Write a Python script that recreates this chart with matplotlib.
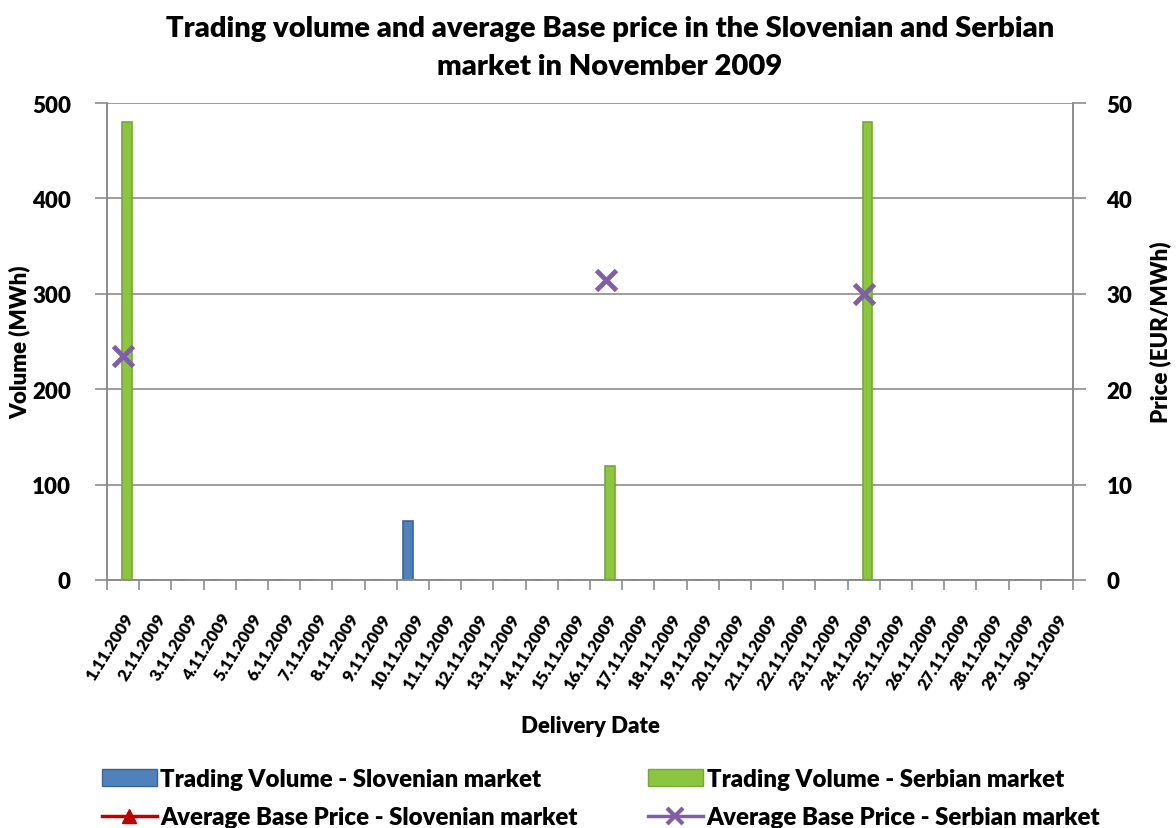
import numpy as np
import matplotlib
matplotlib.use("Agg")
import matplotlib.pyplot as plt
from matplotlib.patches import Patch
from matplotlib.lines import Line2D

plt.rcParams['font.family'] = ['Lato', 'DejaVu Sans']

dates = [f"{d}.11.2009" for d in range(1, 31)]

# trading volumes (MWh), only the days with trades
vol_slo = {"10.11.2009": 62}
vol_srb = {"1.11.2009": 480, "16.11.2009": 120, "24.11.2009": 480}
# average base prices (EUR/MWh)
price_slo = {}
price_srb = {"1.11.2009": 23.5, "16.11.2009": 31.5, "24.11.2009": 30.0}

x = np.arange(len(dates))
v_slo = np.array([vol_slo.get(d, 0) for d in dates], dtype=float)
v_srb = np.array([vol_srb.get(d, 0) for d in dates], dtype=float)
p_slo = np.array([price_slo.get(d, np.nan) for d in dates], dtype=float)
p_srb = np.array([price_srb.get(d, np.nan) for d in dates], dtype=float)

blue = '#4F81BD'
green = '#8CC63F'
red = '#C00000'
purple = '#7F5FA8'
grid_c = '#8C8C8C'
W = 'heavy'

fig = plt.figure(figsize=(11.76, 8.29), dpi=100)
ax = fig.add_axes([0.091, 0.2992, 0.8215, 0.5753])
ax2 = ax.twinx()

w = 0.3
ax.bar(x - 0.16, v_slo, width=w, color=blue, edgecolor='#3A6596', linewidth=1.2, zorder=3)
ax.bar(x + 0.12, v_srb, width=w, color=green, edgecolor='#74A838', linewidth=1.2, zorder=3)

ax2.plot(x, p_slo, color=red, marker='^', markersize=10, linewidth=2.5)
ax2.plot(x, p_srb, color=purple, marker='x', markersize=15, markeredgewidth=3.5,
         linestyle='none')

ax.set_xlim(-0.5, len(dates) - 0.5)
ax.set_ylim(0, 500)
ax2.set_ylim(0, 50)
ax.set_yticks(np.arange(0, 501, 100))
ax2.set_yticks(np.arange(0, 51, 10))
ax.yaxis.grid(True, color=grid_c, linewidth=1.2, zorder=0)
ax.set_axisbelow(True)

for a, pad in ((ax, 17), (ax2, 15)):
    for s in a.spines.values():
        s.set_color(grid_c)
        s.set_linewidth(1.2)
    a.spines['top'].set_visible(False)
    a.tick_params(axis='y', colors=grid_c, length=9, width=1.2, labelsize=16,
                  labelcolor='black', pad=pad)
    for lbl in a.get_yticklabels():
        lbl.set_fontweight(W)

ax.set_xticks(np.arange(-0.5, len(dates), 1), minor=False)
ax.set_xticklabels([])
ax.set_xticks(x, minor=True)
ax.set_xticklabels(dates, minor=True, rotation=58, ha='right',
                   rotation_mode='anchor', fontsize=12, fontweight=W)
ax.tick_params(axis='x', which='major', colors=grid_c, length=7, width=1.2)
ax.tick_params(axis='x', which='minor', length=0, pad=22)

# axis titles
fig.text(20 / 1176, 1 - 342 / 829, "Volume (MWh)", rotation=90, ha='center', va='center',
         fontsize=16, fontweight=W)
fig.text(1160 / 1176, 1 - 332 / 829, "Price (EUR/MWh)", rotation=90, ha='center', va='center',
         fontsize=16, fontweight=W)
fig.text(590 / 1176, 1 - 727 / 829, "Delivery Date", ha='center', va='center',
         fontsize=16, fontweight=W)

fig.text(610 / 1176, 1 - 48 / 829,
         "Trading volume and average Base price in the Slovenian and Serbian\nmarket in November 2009",
         ha='center', va='center', fontsize=21, fontweight=W, linespacing=1.55)

handles = [
    Patch(facecolor=blue, edgecolor='#3A6596'),
    Line2D([], [], color=red, marker='^', markersize=10, linewidth=2.5),
    Patch(facecolor=green, edgecolor='#74A838'),
    Line2D([], [], color=purple, marker='x', markersize=12, markeredgewidth=3, linewidth=2.5),
]
labels = ["Trading Volume - Slovenian market", "Average Base Price - Slovenian market",
          "Trading Volume - Serbian market", "Average Base Price - Serbian market"]
fig.legend(handles, labels, ncol=2, loc='upper left',
           bbox_to_anchor=(92 / 1176, 1 - 759 / 829), frameon=False,
           prop={'size': 17.3, 'weight': W}, handlelength=2.3, handletextpad=0.15,
           columnspacing=2.9, labelspacing=0.7, borderaxespad=0)

fig.savefig("out.png", dpi=100)
